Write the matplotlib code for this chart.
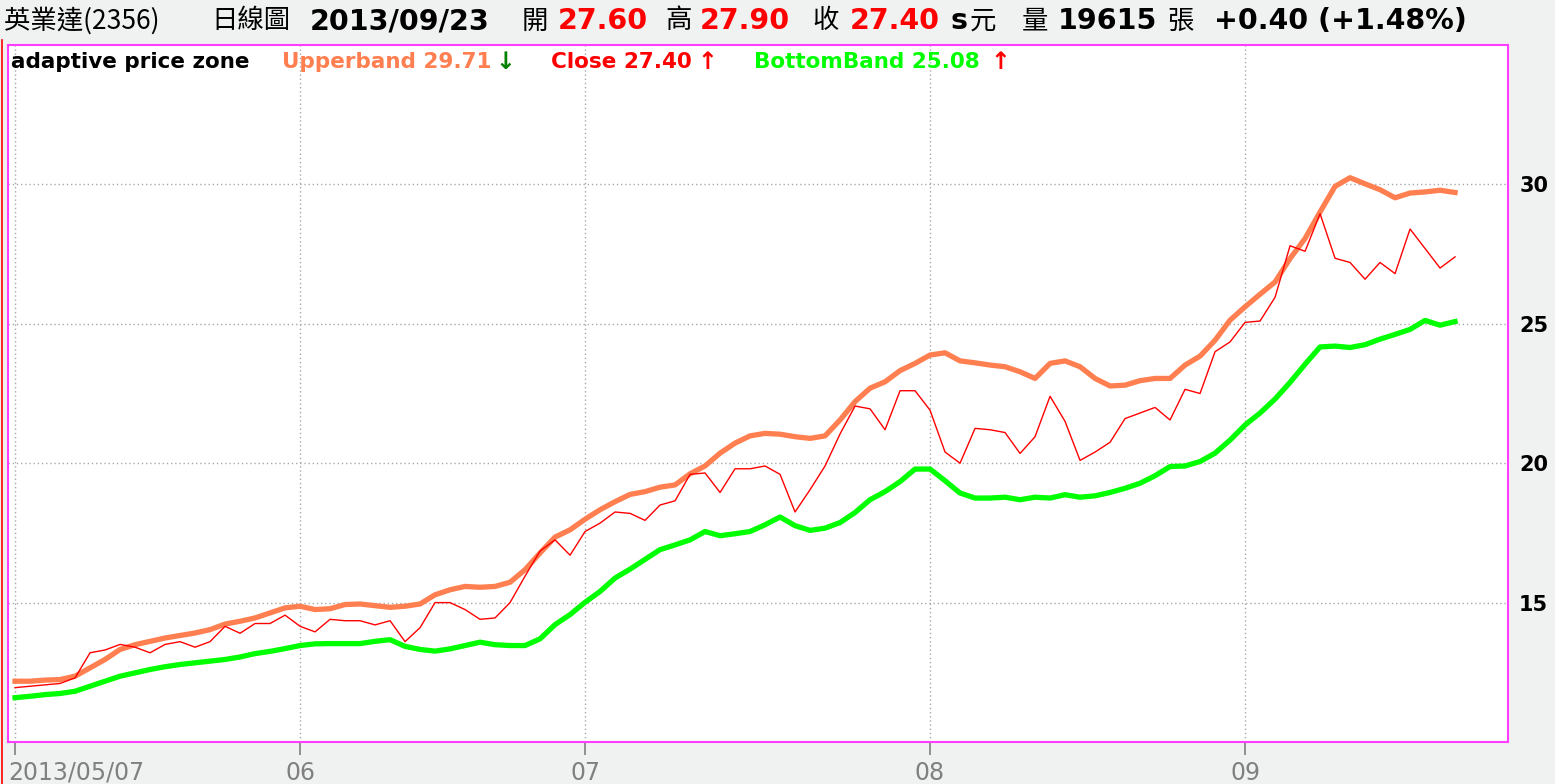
import matplotlib
matplotlib.use('Agg')
import matplotlib.pyplot as plt
import matplotlib.transforms as mtransforms
from matplotlib.lines import Line2D

# daily values, 2013/05/07 .. 2013/09/23 (97 trading days)
close = [11.95, 12.00, 12.05, 12.10, 12.30, 13.20, 13.30, 13.50, 13.40, 13.20,
         13.50, 13.60, 13.40, 13.60, 14.15, 13.90, 14.25, 14.25, 14.55, 14.15,
         13.95, 14.40, 14.35, 14.35, 14.20, 14.35, 13.60, 14.10, 15.00, 15.00,
         14.75, 14.40, 14.45, 15.00, 15.95, 16.85, 17.25, 16.70, 17.55, 17.85,
         18.25, 18.20, 17.95, 18.50, 18.65, 19.60, 19.65, 18.95, 19.80, 19.80,
         19.90, 19.60, 18.25, 19.05, 19.90, 21.05, 22.05, 21.95, 21.20, 22.60,
         22.60, 21.90, 20.40, 20.00, 21.25, 21.20, 21.10, 20.35, 20.95, 22.40,
         21.50, 20.10, 20.40, 20.75, 21.60, 21.80, 22.00, 21.55, 22.65, 22.50,
         24.00, 24.35, 25.05, 25.10, 25.95, 27.80, 27.60, 28.95, 27.35, 27.20,
         26.60, 27.20, 26.80, 28.40, 27.70, 27.00, 27.40]
upper = [12.18, 12.18, 12.22, 12.24, 12.36, 12.66, 12.96, 13.32, 13.49, 13.61,
         13.73, 13.82, 13.91, 14.03, 14.23, 14.33, 14.45, 14.63, 14.81, 14.87,
         14.75, 14.78, 14.93, 14.95, 14.89, 14.83, 14.87, 14.95, 15.28, 15.46,
         15.58, 15.55, 15.58, 15.73, 16.18, 16.78, 17.35, 17.61, 17.99, 18.33,
         18.62, 18.88, 18.98, 19.14, 19.22, 19.62, 19.90, 20.36, 20.72, 20.98,
         21.07, 21.04, 20.95, 20.89, 20.98, 21.55, 22.21, 22.69, 22.92, 23.32,
         23.58, 23.88, 23.96, 23.67, 23.60, 23.52, 23.46, 23.28, 23.04, 23.58,
         23.67, 23.46, 23.04, 22.77, 22.80, 22.96, 23.04, 23.04, 23.52, 23.84,
         24.41, 25.13, 25.61, 26.06, 26.50, 27.34, 28.06, 29.01, 29.93, 30.24,
         30.02, 29.81, 29.52, 29.69, 29.73, 29.79, 29.71]
bottom = [11.59, 11.64, 11.70, 11.74, 11.82, 12.00, 12.18, 12.36, 12.48, 12.60,
          12.70, 12.78, 12.84, 12.90, 12.96, 13.05, 13.17, 13.25, 13.35, 13.46,
          13.52, 13.53, 13.53, 13.53, 13.61, 13.67, 13.43, 13.32, 13.26, 13.34,
          13.46, 13.58, 13.49, 13.46, 13.46, 13.70, 14.21, 14.57, 15.01, 15.40,
          15.88, 16.20, 16.55, 16.90, 17.07, 17.25, 17.55, 17.40, 17.47, 17.55,
          17.79, 18.07, 17.76, 17.59, 17.67, 17.87, 18.23, 18.69, 18.98, 19.34,
          19.79, 19.79, 19.37, 18.93, 18.75, 18.75, 18.78, 18.69, 18.78, 18.75,
          18.87, 18.78, 18.83, 18.95, 19.10, 19.28, 19.55, 19.88, 19.90, 20.06,
          20.36, 20.83, 21.37, 21.80, 22.30, 22.90, 23.55, 24.17, 24.20, 24.15,
          24.25, 24.45, 24.62, 24.80, 25.12, 24.95, 25.08]

tick_pos = [0, 19, 38, 61, 82]
tick_labels = ['2013/05/07', '06', '07', '08', '09']
y_ticks = [15, 20, 25, 30]

CJK = ['Noto Sans CJK TC', 'DejaVu Sans']
W, H = 1555, 784

fig = plt.figure(figsize=(W / 100, H / 100), dpi=100, facecolor='#f0f1f1')
ax = fig.add_axes([8 / W, 1 - 742 / H, 1500 / W, 697 / H])
ax.set_facecolor('white')

x = list(range(len(close)))
ax.plot(x, upper, color='#ff7f50', lw=3.8, solid_joinstyle='round')
ax.plot(x, bottom, color='#00ff00', lw=3.8, solid_joinstyle='round')
ax.plot(x, close, color='#ff0000', lw=1.0)

ax.set_xlim(-0.47, 99.53)
ax.set_ylim(10, 35)

ax.set_xticks(tick_pos)
ax.set_xticklabels(tick_labels)
ax.set_yticks(y_ticks)
ax.yaxis.tick_right()
ax.tick_params(axis='x', direction='out', length=9.5, width=1.2, color='#808080',
               labelcolor='#808080', labelsize=17, pad=4)
ax.tick_params(axis='y', length=0, pad=8, labelsize=15)
for lbl in ax.get_yticklabels():
    lbl.set_fontweight('bold')
first = ax.get_xticklabels()[0]
first.set_ha('left')
first.set_transform(first.get_transform() +
                    mtransforms.ScaledTranslation(-7 / 100, 0, fig.dpi_scale_trans))

ax.grid(True, color='#a8a8a8', linestyle=(0, (1, 2)), linewidth=1.0)
for sp in ax.spines.values():
    sp.set_color('#ff3cff')
    sp.set_linewidth(1.5)

fig.add_artist(Line2D([1.5 / W, 1.5 / W], [0, 1 - 40 / H], color='red', lw=1.2,
                      transform=fig.transFigure))


def put(txt, px, py, color='black', weight='normal', size=18, family=None):
    kw = {}
    if family:
        kw['family'] = family
    fig.text(px / W, 1 - py / H, txt, color=color, fontweight=weight,
             fontsize=size, ha='left', va='center', **kw)


# header line
put('英業達(2356)', 4, 21, family=CJK, size=19)
put('日線圖', 211, 21, family=CJK, size=19)
put('2013/09/23', 310, 21, weight='bold', size=20.5)
put('開', 522, 21, family=CJK, size=19)
put('27.60', 558, 21, color='#ff0000', weight='bold', size=20.5)
put('高', 665, 21, family=CJK, size=19)
put('27.90', 700, 21, color='#ff0000', weight='bold', size=20.5)
put('收', 812, 21, family=CJK, size=19)
put('27.40', 850, 21, color='#ff0000', weight='bold', size=20.5)
put('s', 950, 21, weight='bold', size=20.5)
put('元', 970, 21, family=CJK, size=19)
put('量', 1022, 21, family=CJK, size=19)
put('19615', 1058, 21, weight='bold', size=20.5)
put('張', 1167, 21, family=CJK, size=19)
put('+0.40 (+1.48%)', 1214, 21, weight='bold', size=20.5)

# legend row
put('adaptive price zone', 11, 62, weight='bold', size=15.5)
put('Upperband 29.71', 282, 62, color='#ff7f50', weight='bold', size=15.5)
put('↓', 495, 62, color='#008000', weight='bold', size=17)
put('Close 27.40', 551, 62, color='#ff0000', weight='bold', size=15.5)
put('↑', 697, 62, color='#ff0000', weight='bold', size=17)
put('BottomBand 25.08', 754, 62, color='#00ff00', weight='bold', size=15.5)
put('↑', 990, 62, color='#ff0000', weight='bold', size=17)

fig.savefig('out.png', dpi=100, facecolor=fig.get_facecolor())
